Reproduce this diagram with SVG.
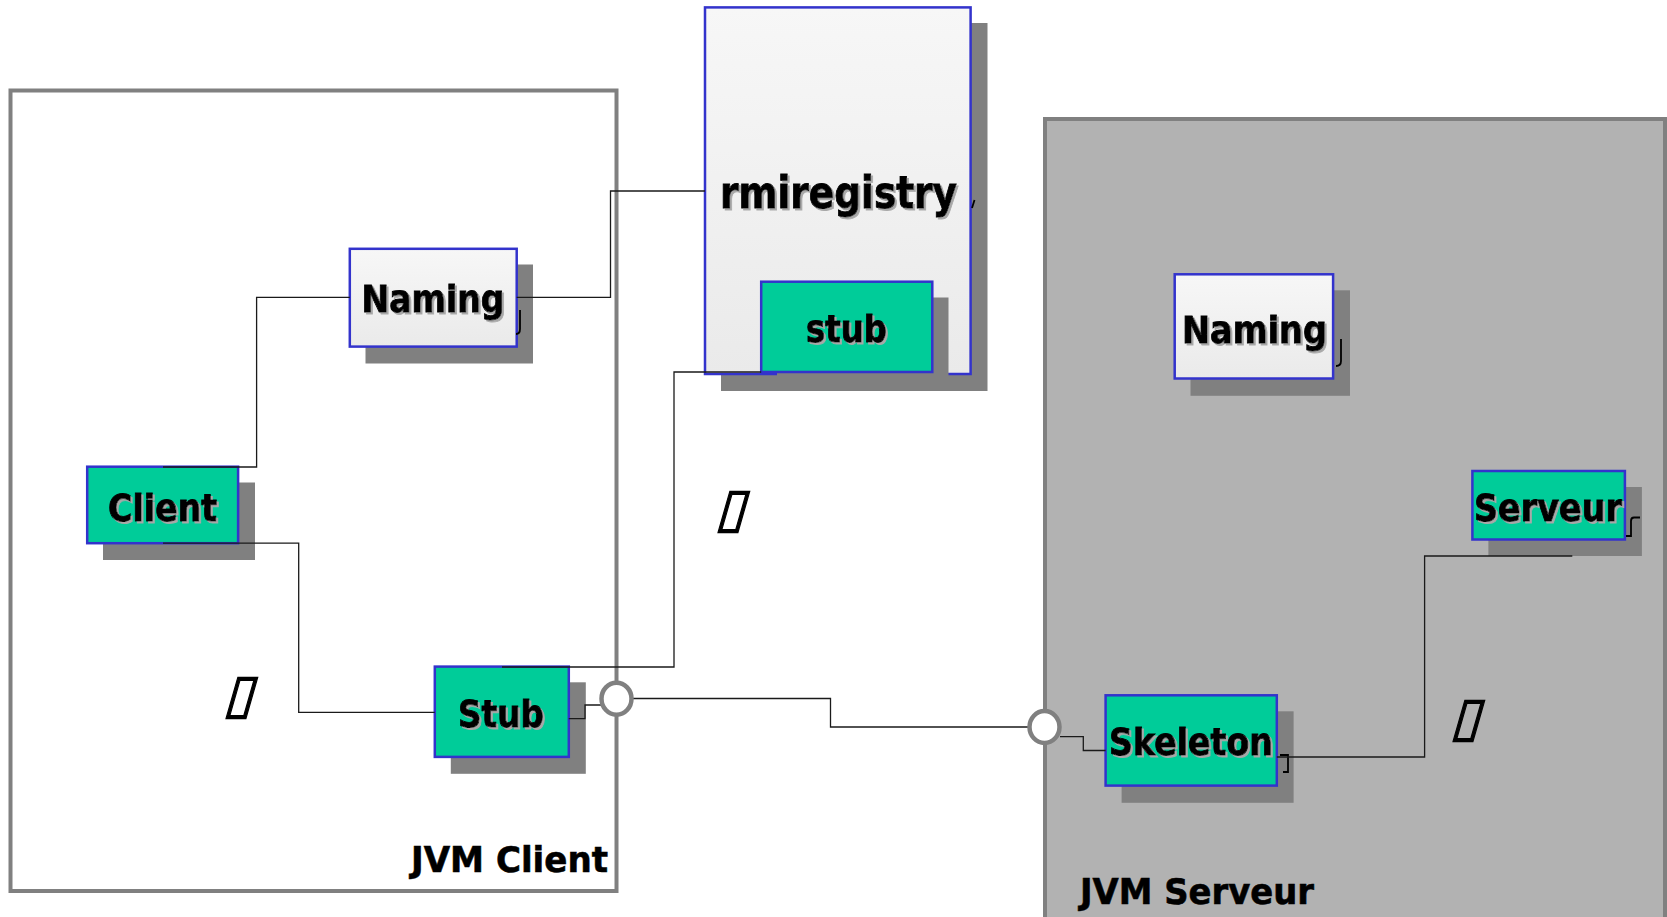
<svg xmlns="http://www.w3.org/2000/svg" width="1667" height="917" viewBox="0 0 1667 917">
<defs>
<linearGradient id="gw" x1="0" y1="0" x2="0" y2="1"><stop offset="0" stop-color="#f7f7f7"/><stop offset="1" stop-color="#eaeaea"/></linearGradient>
<filter id="tsh" x="-10%" y="-20%" width="130%" height="150%"><feDropShadow dx="2" dy="2" stdDeviation="0.4" flood-color="#a8a8a8" flood-opacity="1"/></filter>
</defs>
<style>
.shadow{fill:#808080}
.white{fill:url(#gw);stroke:#3333cc;stroke-width:2.5}
.green{fill:#00cc99;stroke:#3333cc;stroke-width:2.5}
.lbl{font-family:"DejaVu Sans","Liberation Sans",sans-serif;font-weight:bold;font-size:38px;text-anchor:middle;fill:#000;stroke:#000;stroke-width:0.9;filter:url(#tsh)}
.cont{stroke:#808080;stroke-width:4}
.clbl{font-family:"DejaVu Sans","Liberation Sans",sans-serif;font-weight:bold;font-size:36px;fill:#000;stroke:#000;stroke-width:0.6}
.wire{fill:none;stroke:#1a1a1a;stroke-width:1.3}
.port{fill:#fff;stroke:#808080;stroke-width:4.5}
.tofu{font-family:"DejaVu Sans",sans-serif;font-size:54px;fill:#000;stroke:#000;stroke-width:1.2}
.mark{fill:none;stroke:#000;stroke-width:1.8}
</style>
<rect width="1667" height="917" fill="#fff"/>
<g id="jvm-client">
<rect class="cont" x="10.5" y="90.5" width="606" height="800.5" fill="#fff"/>
<text class="clbl" x="411" y="872" textLength="197" lengthAdjust="spacingAndGlyphs">JVM Client</text>
</g>
<g id="jvm-serveur">
<rect class="cont" x="1045" y="119" width="620" height="830" fill="#b2b2b2"/>
<text class="clbl" x="1080" y="904" textLength="234" lengthAdjust="spacingAndGlyphs">JVM Serveur</text>
</g>
<g id="rmiregistry">
<rect class="shadow" x="721" y="23" width="266.5" height="368"/>
<rect class="white" x="705" y="7.4" width="265.6" height="366.6"/>
<text class="lbl" x="838.5" y="208" style="font-size:44px" textLength="237" lengthAdjust="spacingAndGlyphs">rmiregistry</text>
<path class="mark" d="M974.5,200 L972,208"/>
</g>
<g id="stub-registry">
<rect class="shadow" x="777" y="297.5" width="171.5" height="91"/>
<rect class="green" x="761.2" y="281.7" width="171.1" height="90.3"/>
<text class="lbl" x="846.5" y="341.7" textLength="81" lengthAdjust="spacingAndGlyphs">stub</text>
</g>
<g id="naming-client">
<rect class="shadow" x="365.5" y="264.5" width="167.5" height="99"/>
<rect class="white" x="349.8" y="248.8" width="166.9" height="97.8"/>
<text class="lbl" x="433" y="312" textLength="143" lengthAdjust="spacingAndGlyphs">Naming</text>
<path class="mark" d="M520,310 V329 Q520,334 516,334"/>
</g>
<g id="client">
<rect class="shadow" x="103" y="482.5" width="152" height="77.5"/>
<rect class="green" x="87.2" y="466.7" width="150.9" height="76.5"/>
<text class="lbl" x="162.6" y="520.7" textLength="109" lengthAdjust="spacingAndGlyphs">Client</text>
</g>
<g id="stub-client">
<rect class="shadow" x="450.8" y="682.3" width="135" height="91.5"/>
<rect class="green" x="434.8" y="666.6" width="134" height="90.3"/>
<text class="lbl" x="501" y="727.3" textLength="86" lengthAdjust="spacingAndGlyphs">Stub</text>
</g>
<g id="naming-server">
<rect class="shadow" x="1190.5" y="290.3" width="159.5" height="105.5"/>
<rect class="white" x="1174.7" y="274.3" width="158.4" height="104.2"/>
<text class="lbl" x="1254.5" y="342.7" textLength="145" lengthAdjust="spacingAndGlyphs">Naming</text>
<path class="mark" d="M1341,339 V361 Q1341,366 1336,366"/>
</g>
<g id="serveur">
<rect class="shadow" x="1488.4" y="487" width="153.5" height="69"/>
<rect class="green" x="1472.4" y="471" width="152.5" height="68.5"/>
<text class="lbl" x="1548" y="520.7" textLength="148" lengthAdjust="spacingAndGlyphs">Serveur</text>
<path class="mark" d="M1640,517.5 H1634 Q1631,517.5 1631,521 V536 H1626"/>
</g>
<g id="skeleton">
<rect class="shadow" x="1121.6" y="711.3" width="172" height="91.5"/>
<rect class="green" x="1105.6" y="695.3" width="171.2" height="90.3"/>
<text class="lbl" x="1191" y="755" textLength="164" lengthAdjust="spacingAndGlyphs">Skeleton</text>
<path class="mark" d="M1280,755 H1288 V772 H1283"/>
</g>
<g id="connectors">
<path class="wire" d="M163,467 H256.6 V297.3 H349.8"/>
<path class="wire" d="M163,543.2 H298.7 V712.3 H434.8"/>
<path class="wire" d="M516.7,297.3 H610.5 V191 H705"/>
<path class="wire" d="M502,667 H674 V372 H761.2"/>
<path class="wire" d="M568.8,718.7 H585 V705 H601"/>
<path class="wire" d="M632,698.5 H830.5 V727 H1029"/>
<path class="wire" d="M1060,736.7 H1083.3 V750.5 H1105.6"/>
<path class="wire" d="M1276.8,757 H1424.6 V556 H1572.3"/>
</g>
<g id="port-client">
<ellipse class="port" cx="616.5" cy="698.7" rx="15" ry="16"/>
</g>
<g id="port-server">
<ellipse class="port" cx="1044.5" cy="727" rx="15" ry="16"/>
</g>
<g id="labels">
<text class="tofu" transform="translate(223,712) skewX(-16)">▯</text>
<text class="tofu" transform="translate(715,526) skewX(-16)">▯</text>
<text class="tofu" transform="translate(1450,735) skewX(-16)">▯</text>
</g>
</svg>
